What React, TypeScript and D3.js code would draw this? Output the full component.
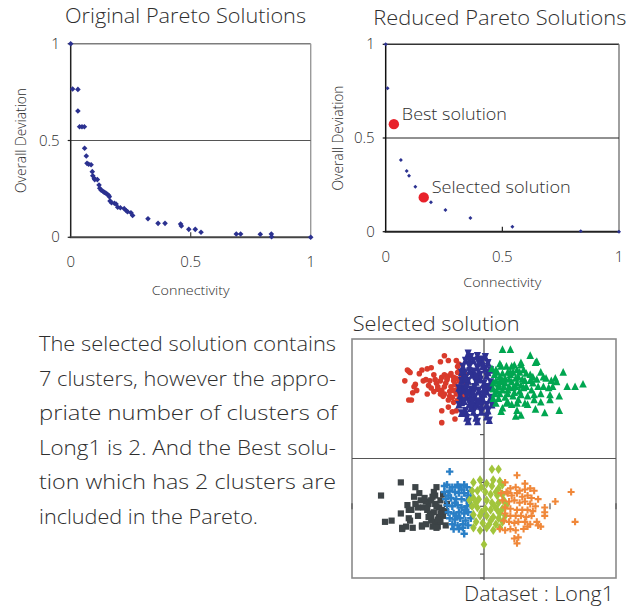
import React from 'react';
import * as d3 from 'd3';

type Pt = [number, number];

const FONT = '"Open Sans", "Noto Sans", sans-serif';
const WEIGHT = 350;
const INK = '#2e2e2e';
const NAVY = '#2b3190';
const HIGHLIGHT = '#e8212a';

// Pareto fronts: [connectivity, overall deviation]
const originalFront: Pt[] = [
  [0, 1], [0.008, 0.766], [0.03, 0.764], [0.03, 0.652], [0.037, 0.571], [0.047, 0.571], [0.057, 0.571],
  [0.058, 0.46], [0.065, 0.42], [0.068, 0.382], [0.075, 0.377], [0.085, 0.375], [0.09, 0.339],
  [0.092, 0.318], [0.098, 0.305], [0.1, 0.298], [0.111, 0.298], [0.118, 0.27], [0.121, 0.253],
  [0.127, 0.243], [0.133, 0.239], [0.14, 0.232], [0.146, 0.229], [0.152, 0.222], [0.158, 0.217],
  [0.161, 0.21], [0.164, 0.188], [0.17, 0.179], [0.182, 0.176], [0.189, 0.172], [0.196, 0.155],
  [0.207, 0.153], [0.223, 0.148], [0.232, 0.137], [0.237, 0.132], [0.251, 0.127], [0.258, 0.113],
  [0.322, 0.096], [0.364, 0.072], [0.393, 0.072], [0.458, 0.069], [0.461, 0.058], [0.492, 0.041],
  [0.519, 0.041], [0.543, 0.026], [0.69, 0.017], [0.708, 0.017], [0.79, 0.016], [0.836, 0.017],
  [0.837, 0.003], [1, 0],
];
const reducedFront: Pt[] = [
  [0, 1], [0.008, 0.766], [0.065, 0.383], [0.09, 0.324], [0.1, 0.298], [0.127, 0.24], [0.194, 0.157],
  [0.256, 0.116], [0.363, 0.073], [0.543, 0.026], [0.836, 0.003], [1, 0],
];
const bestSolution: Pt = [0.035, 0.574];
const selectedSolution: Pt = [0.163, 0.183];

const paretoTicks = [0, 0.5, 1];
const paretoTickLabels = ['0', '0.5', '1'];

// Long1 dataset, coloured by the selected 7-cluster solution
const redCluster: Pt[] = [
  [-0.3, 1.26], [-0.33, 1.21], [-0.27, 1.22], [-0.21, 1.22], [-0.19, 1.19], [-0.2, 1.17], [-0.57, 1.13],
  [-0.56, 1.12], [-0.47, 1.14], [-0.49, 1.11], [-0.43, 1.15], [-0.4, 1.16], [-0.38, 1.1], [-0.41, 1.05],
  [-0.44, 1.06], [-0.46, 1.05], [-0.6, 1.05], [-0.52, 1.02], [-0.53, 1.0], [-0.54, 0.95], [-0.51, 0.97],
  [-0.57, 0.89], [-0.55, 0.89], [-0.42, 1.01], [-0.4, 0.99], [-0.36, 1.03], [-0.33, 1.05], [-0.32, 1.08],
  [-0.3, 1.1], [-0.28, 1.06], [-0.27, 1.09], [-0.25, 1.11], [-0.23, 1.05], [-0.21, 1.07], [-0.19, 1.13],
  [-0.17, 1.09], [-0.16, 1.04], [-0.14, 1.0], [-0.35, 0.98], [-0.32, 0.97], [-0.3, 0.94], [-0.26, 0.92],
  [-0.23, 0.97], [-0.21, 0.94], [-0.2, 0.89], [-0.23, 0.87], [-0.27, 0.89], [-0.18, 0.92], [-0.38, 0.96],
  [-0.43, 0.94], [-0.33, 0.94], [-0.32, 0.8], [-0.27, 0.83], [-0.24, 0.79], [-0.21, 0.8], [-0.22, 0.73],
  [-0.32, 0.7], [-0.13, 1.03], [-0.14, 0.97], [-0.58, 1.14], [-0.29, 1.03], [-0.25, 1.0], [-0.22, 1.02],
  [-0.19, 1.05], [-0.17, 0.98], [-0.26, 0.96], [-0.3, 1.0], [-0.2, 0.98], [-0.16, 1.06], [-0.23, 1.08],
  [-0.28, 1.07], [-0.35, 1.0], [-0.37, 1.06], [-0.31, 0.92], [-0.18, 0.94], [-0.15, 0.92], [-0.24, 0.91],
  [-0.2, 1.12], [-0.14, 1.1],
];
const navyCluster: Pt[] = [
  [-0.12, 1.28], [-0.05, 1.26], [-0.1, 1.25], [-0.14, 1.22], [-0.08, 1.22], [-0.02, 1.23], [0.03, 1.2],
  [-0.16, 1.17], [-0.11, 1.17], [-0.05, 1.16], [0.01, 1.15], [0.05, 1.14], [-0.15, 1.11], [-0.09, 1.1],
  [-0.03, 1.1], [0.02, 1.09], [-0.17, 1.05], [-0.12, 1.05], [-0.06, 1.04], [0.0, 1.03], [0.05, 1.04],
  [-0.16, 0.99], [-0.1, 0.98], [-0.04, 0.97], [0.02, 0.96], [-0.18, 0.93], [-0.13, 0.92], [-0.07, 0.91],
  [-0.01, 0.9], [0.05, 0.91], [-0.17, 0.87], [-0.11, 0.86], [-0.05, 0.85], [0.02, 0.85], [-0.14, 0.8],
  [-0.08, 0.79], [-0.02, 0.79], [0.03, 0.8], [-0.13, 0.74], [-0.06, 0.74], [-0.12, 0.71], [-0.05, 0.71],
  [0.04, 0.72], [-0.17, 0.78], [-0.19, 0.85], [-0.19, 0.99], [0.01, 1.25], [0.05, 0.99], [0.06, 0.85],
  [-0.11, 1.22], [-0.02, 0.91], [-0.14, 0.97], [0.02, 0.75], [-0.07, 0.84], [-0.1, 0.92], [-0.01, 1.17],
  [-0.17, 1.12], [-0.08, 1.13], [-0.13, 1.02], [-0.03, 1.06], [0.03, 1.0], [-0.08, 0.95], [-0.15, 0.88],
  [-0.02, 0.84], [0.0, 0.94], [-0.1, 0.82], [-0.04, 1.2], [-0.06, 1.09], [-0.11, 1.13], [0.0, 0.98],
  [-0.07, 1.0], [-0.12, 0.95], [-0.04, 0.88], [-0.09, 0.88], [0.03, 1.12], [-0.14, 1.07],
];
const greenCluster: Pt[] = [
  [0.14, 1.31], [0.2, 1.31], [0.35, 1.26], [0.39, 1.2], [0.4, 1.21], [0.28, 1.2], [0.28, 1.18], [0.12, 1.19],
  [0.13, 1.17], [0.06, 1.15], [0.09, 1.14], [0.17, 1.17], [0.21, 1.17], [0.23, 1.18], [0.18, 1.12],
  [0.22, 1.12], [0.25, 1.14], [0.3, 1.14], [0.32, 1.11], [0.35, 1.1], [0.37, 1.08], [0.4, 1.06],
  [0.43, 1.12], [0.45, 1.08], [0.47, 1.07], [0.51, 1.05], [0.54, 1.07], [0.55, 1.04], [0.6, 1.12],
  [0.63, 1.0], [0.69, 1.0], [0.75, 1.02], [0.57, 0.92], [0.5, 0.89], [0.5, 0.93], [0.43, 0.94],
  [0.45, 1.0], [0.49, 0.99], [0.38, 0.93], [0.36, 0.97], [0.32, 1.0], [0.28, 1.01], [0.25, 1.03],
  [0.21, 1.04], [0.16, 1.07], [0.12, 1.08], [0.09, 1.05], [0.11, 1.0], [0.14, 0.97], [0.18, 0.94],
  [0.22, 0.92], [0.26, 0.89], [0.31, 0.86], [0.33, 0.85], [0.25, 0.8], [0.28, 0.76], [0.24, 0.75],
  [0.13, 0.79], [0.14, 0.82], [0.39, 0.81], [0.46, 0.78], [0.57, 0.8], [0.18, 0.87], [0.11, 0.9],
  [0.08, 0.94], [0.07, 1.03], [0.08, 1.1], [0.16, 1.03], [0.22, 0.99], [0.27, 0.96], [0.33, 0.92],
  [0.38, 0.89], [0.43, 0.87], [0.37, 1.03], [0.41, 1.0], [0.31, 1.05], [0.26, 1.08], [0.2, 1.1],
  [0.14, 1.11], [0.28, 0.93], [0.17, 0.86], [0.21, 0.85], [0.09, 0.86], [0.52, 1.0], [0.1, 1.12],
  [0.14, 1.05], [0.19, 1.0], [0.24, 1.07], [0.12, 0.94], [0.16, 0.91], [0.23, 0.95], [0.29, 1.06],
  [0.2, 1.12], [0.11, 1.02], [0.25, 0.86], [0.3, 0.99], [0.35, 1.05], [0.07, 0.98], [0.07, 0.9],
  [0.1, 0.96], [0.15, 1.0], [0.19, 1.06], [0.24, 1.0], [0.18, 0.97], [0.12, 1.04], [0.27, 1.12],
];
const darkCluster: Pt[] = [
  [-0.63, 0.2], [-0.52, 0.16], [-0.78, 0.09], [-0.58, 0.01], [-0.57, -0.03], [-0.55, -0.03], [-0.63, -0.06],
  [-0.7, -0.12], [-0.75, -0.13], [-0.62, -0.18], [-0.59, -0.17], [-0.54, -0.18], [-0.5, -0.08],
  [-0.47, -0.16], [-0.44, -0.15], [-0.4, -0.12], [-0.36, 0.16], [-0.37, 0.09], [-0.39, 0.08], [-0.49, 0.11],
  [-0.53, 0.08], [-0.48, 0.05], [-0.46, -0.01], [-0.43, -0.03], [-0.42, 0.02], [-0.37, 0.02], [-0.34, -0.01],
  [-0.32, -0.03], [-0.31, -0.08], [-0.34, -0.09], [-0.37, -0.13], [-0.35, -0.17], [-0.29, -0.16],
  [-0.41, -0.06], [-0.44, 0.04], [-0.38, -0.05], [-0.33, 0.05], [-0.28, 0.02], [-0.5, -0.01], [-0.52, 0.02],
  [-0.56, -0.12], [-0.33, -0.13], [-0.39, -0.17], [-0.42, -0.09], [-0.62, -0.19], [-0.57, -0.1],
  [-0.47, -0.17], [-0.36, -0.18], [-0.4, 0.05], [-0.36, 0.0], [-0.33, -0.06], [-0.4, -0.08], [-0.45, 0.07],
  [-0.38, 0.12], [-0.31, 0.1], [-0.29, -0.04], [-0.35, -0.11],
];
const blueCluster: Pt[] = [
  [-0.26, 0.29], [-0.3, 0.17], [-0.28, 0.18], [-0.24, 0.16], [-0.2, 0.18], [-0.19, 0.16], [-0.15, 0.18],
  [-0.13, 0.16], [-0.1, 0.13], [-0.3, 0.12], [-0.26, 0.13], [-0.22, 0.12], [-0.19, 0.11], [-0.15, 0.11],
  [-0.12, 0.09], [-0.29, 0.06], [-0.25, 0.07], [-0.21, 0.06], [-0.17, 0.06], [-0.13, 0.05], [-0.1, 0.06],
  [-0.28, 0.01], [-0.24, 0.0], [-0.2, 0.01], [-0.17, -0.01], [-0.13, 0.0], [-0.1, 0.01], [-0.27, -0.05],
  [-0.23, -0.06], [-0.19, -0.05], [-0.15, -0.06], [-0.12, -0.05], [-0.26, -0.1], [-0.22, -0.11],
  [-0.18, -0.1], [-0.14, -0.12], [-0.1, -0.1], [-0.24, -0.15], [-0.2, -0.16], [-0.16, -0.15],
  [-0.12, -0.16], [-0.15, -0.23], [-0.19, -0.19], [-0.23, -0.19], [-0.22, 0.03], [-0.17, 0.14],
  [-0.27, 0.09], [-0.14, -0.03], [-0.21, -0.08], [-0.16, -0.18],
];
const limeCluster: Pt[] = [
  [0.06, 0.31], [0.11, 0.31], [0.07, 0.22], [0.12, 0.21], [0.0, -0.32], [-0.08, 0.2], [-0.03, 0.22],
  [0.02, 0.19], [0.06, 0.17], [0.11, 0.15], [0.14, 0.18], [-0.09, 0.13], [-0.05, 0.13], [0.01, 0.12],
  [0.05, 0.1], [0.1, 0.09], [0.14, 0.1], [-0.08, 0.07], [-0.04, 0.06], [0.02, 0.05], [0.06, 0.03],
  [0.11, 0.03], [0.15, 0.05], [-0.09, 0.0], [-0.05, -0.01], [0.01, -0.02], [0.05, -0.03], [0.1, -0.03],
  [0.14, -0.02], [-0.08, -0.07], [-0.03, -0.08], [0.02, -0.08], [0.07, -0.09], [0.11, -0.1], [-0.06, -0.13],
  [-0.01, -0.14], [0.04, -0.15], [0.09, -0.15], [0.14, -0.13], [-0.08, -0.18], [-0.03, -0.2],
  [0.07, -0.2], [0.12, -0.18], [-0.11, 0.05], [0.17, 0.01], [0.16, -0.08], [0.02, -0.18],
  [-0.02, 0.16], [0.09, 0.12], [-0.06, 0.03], [0.08, 0.0], [-0.02, -0.05], [0.12, -0.06], [0.05, -0.12],
];
const orangeCluster: Pt[] = [
  [0.25, 0.26], [0.31, 0.19], [0.16, 0.2], [0.2, 0.15], [0.24, 0.16], [0.27, 0.13], [0.31, 0.14],
  [0.35, 0.15], [0.38, 0.13], [0.18, 0.11], [0.21, 0.09], [0.25, 0.11], [0.29, 0.08], [0.33, 0.09],
  [0.36, 0.07], [0.41, 0.06], [0.14, 0.05], [0.19, 0.04], [0.23, 0.05], [0.27, 0.03], [0.31, 0.04],
  [0.35, 0.02], [0.39, 0.0], [0.46, -0.01], [0.54, 0.04], [0.46, -0.05], [0.46, -0.08], [0.66, 0.12],
  [0.69, -0.13], [0.16, -0.01], [0.2, -0.02], [0.25, -0.03], [0.29, -0.03], [0.33, -0.03], [0.37, -0.04],
  [0.16, -0.06], [0.2, -0.08], [0.24, -0.08], [0.28, -0.08], [0.32, -0.09], [0.36, -0.08], [0.15, -0.12],
  [0.19, -0.13], [0.23, -0.14], [0.26, -0.13], [0.31, -0.13], [0.35, -0.15], [0.4, -0.13], [0.43, -0.17],
  [0.12, -0.19], [0.16, -0.2], [0.2, -0.19], [0.24, -0.2], [0.3, -0.19], [0.33, -0.17], [0.23, -0.27],
  [0.26, -0.26], [0.25, -0.31], [0.41, -0.16], [0.17, 0.12], [0.13, 0.11],
];

const clusterYTicks = [-0.6, -0.4, -0.2, 0, 0.2, 0.4, 0.6, 0.8, 1.0, 1.2];
const clusterXTicks = [-1, -0.5, 0.5, 1];
const clusterDivider = 0.4;

const paragraphLines = [
  'The selected solution contains',
  '7 clusters, however the appro-',
  'priate number of clusters of',
  'Long1 is 2. And the Best solu-',
  'tion which has 2 clusters are',
  'included in the Pareto.',
];
const paragraphWidths = [297, 297, 298, 297, 297, 219];

interface PanelProps {
  left: number; right: number; top: number; bottom: number;
  title: string; titleX: number; titleY: number; titleWidth: number;
  points: Pt[]; dotSize: number;
  yTitleX: number; xTitleY: number;
  edges: { top: string; right: string; left: string; bottom: string; mid: string };
  children?: (x: d3.ScaleLinear<number, number>, y: d3.ScaleLinear<number, number>) => React.ReactNode;
}

function ParetoPanel(p: PanelProps) {
  const x = d3.scaleLinear().domain([0, 1]).range([p.left, p.right]);
  const y = d3.scaleLinear().domain([0, 1]).range([p.bottom, p.top]);
  const dot = d3.symbol(d3.symbolDiamond2, p.dotSize)() as string;
  const midY = (p.top + p.bottom) / 2;
  return (
    <g>
      <text x={p.titleX} y={p.titleY} fontSize={20} fill={INK} textLength={p.titleWidth} lengthAdjust="spacingAndGlyphs">
        {p.title}
      </text>
      {/* frame */}
      <line x1={p.left} x2={p.right} y1={p.top} y2={p.top} stroke={p.edges.top} strokeWidth={1.4} />
      <line x1={p.right} x2={p.right} y1={p.top} y2={p.bottom} stroke={p.edges.right} strokeWidth={1.4} />
      <line x1={p.left} x2={p.right} y1={y(0.5)} y2={y(0.5)} stroke={p.edges.mid} strokeWidth={1} />
      <line x1={p.left} x2={p.left} y1={p.top} y2={p.bottom} stroke={p.edges.left} strokeWidth={1.5} />
      <line x1={p.left - 1} x2={p.right} y1={p.bottom} y2={p.bottom} stroke={p.edges.bottom} strokeWidth={2} />
      {paretoTicks.map((t) => (
        <line key={'yt' + t} x1={p.left - 3} x2={p.left} y1={y(t)} y2={y(t)} stroke={p.edges.left} strokeWidth={1.2} />
      ))}
      <line x1={x(0.5)} x2={x(0.5)} y1={p.bottom} y2={p.bottom - 5} stroke={p.edges.bottom} strokeWidth={1.2} />
      {paretoTicks.map((t, i) => (
        <text key={'yl' + t} x={p.left - 11} y={y(t) + 5} fontSize={15} fill={INK} textAnchor="end">
          {paretoTickLabels[i]}
        </text>
      ))}
      {paretoTicks.map((t, i) => (
        <text key={'xl' + t} x={x(t)} y={p.bottom + 30} fontSize={15} fill={INK} textAnchor="middle">
          {paretoTickLabels[i]}
        </text>
      ))}
      <text x={(p.left + p.right) / 2} y={p.xTitleY} fontSize={13} fill={INK} textAnchor="middle" textLength={78} lengthAdjust="spacingAndGlyphs">
        Connectivity
      </text>
      <text transform={`translate(${p.yTitleX},${midY}) rotate(-90)`} dy="0.35em" fontSize={14} fill={INK} textAnchor="middle" textLength={105} lengthAdjust="spacingAndGlyphs">
        Overall Deviation
      </text>
      {p.points.map((d, i) => (
        <path key={i} d={dot} transform={`translate(${x(d[0])},${y(d[1])})`} fill={NAVY} />
      ))}
      {p.children ? p.children(x, y) : null}
    </g>
  );
}

// marker outlines for the cluster plot
const hourglass = 'M-3.6,-3.8H3.6L2,0L3.6,3.8H-3.6L-2,0Z';
const triangle = 'M0,-4.4L3.8,3.2H-3.8Z';
const square = 'M-3.1,-3.1H3.1V3.1H-3.1Z';
const diamond = 'M0,-4.8L3.3,0L0,4.8L-3.3,0Z';
const plus = (r: number) => `M${-r},0H${r}M0,${-r}V${r}`;

function ClusterPanel() {
  const left = 352, right = 616, top = 339, bottom = 578;
  const x = d3.scaleLinear().domain([-1, 1]).range([left, right]);
  const y = d3.scaleLinear().domain([-0.6, 1.4]).range([bottom, top]);
  const at = (d: Pt) => `translate(${x(d[0])},${y(d[1])})`;
  const frame = '#8a8a8a';
  return (
    <g>
      <text x={352.7} y={330.5} fontSize={20} fill={INK} textLength={167} lengthAdjust="spacingAndGlyphs">
        Selected solution
      </text>
      <rect x={left} y={top} width={right - left} height={bottom - top} fill="none" stroke={frame} strokeWidth={1.6} />
      <line x1={left} x2={right} y1={y(clusterDivider)} y2={y(clusterDivider)} stroke="#555" strokeWidth={1.2} />
      <line x1={x(0)} x2={x(0)} y1={top} y2={bottom + 2} stroke="#555" strokeWidth={1.3} />
      {clusterYTicks.map((t) => (
        <line key={'ct' + t} x1={x(0) - 4} x2={x(0)} y1={y(t)} y2={y(t)} stroke="#555" strokeWidth={1.2} />
      ))}
      {clusterXTicks.map((t) => (
        <line key={'cx' + t} x1={x(t)} x2={x(t)} y1={y(0) - 3} y2={y(0) + 3} stroke="#555" strokeWidth={1.2} />
      ))}
      <text x={x(0) - 8} y={y(1) + 5} fontSize={13} fill={INK} textAnchor="end">1</text>

      {redCluster.map((d, i) => (
        <circle key={'r' + i} cx={x(d[0])} cy={y(d[1])} r={2.8} fill="#d93a2b" />
      ))}
      {navyCluster.map((d, i) => (
        <path key={'n' + i} d={hourglass} transform={at(d)} fill="#2e3192" />
      ))}
      {greenCluster.map((d, i) => (
        <path key={'g' + i} d={triangle} transform={at(d)} fill="#00a650" />
      ))}
      {darkCluster.map((d, i) => (
        <path key={'k' + i} d={square} transform={at(d)} fill="#3d4447" />
      ))}
      {blueCluster.map((d, i) => (
        <path key={'b' + i} d={plus(3.7)} transform={at(d)} stroke="#2a7fc6" strokeWidth={2.4} fill="none" />
      ))}
      {limeCluster.map((d, i) => (
        <path key={'l' + i} d={diamond} transform={at(d)} fill="#a2c53c" />
      ))}
      {orangeCluster.map((d, i) => (
        <path key={'o' + i} d={plus(3.5)} transform={at(d)} stroke="#f0883a" strokeWidth={2.1} fill="none" />
      ))}
      <text x={464} y={600.5} fontSize={20} fill={INK} textLength={150} lengthAdjust="spacingAndGlyphs">
        Dataset : Long1
      </text>
    </g>
  );
}

export default function App() {
  return (
    <svg width={641} height={608} viewBox="0 0 641 608" fontFamily={FONT} fontWeight={WEIGHT}
      style={{ position: 'absolute', left: 0, top: 0, background: '#fff' }}>
      <rect width={641} height={608} fill="#fff" />
      <ParetoPanel
        left={70.7} right={310.7} top={43.7} bottom={237.3}
        title="Original Pareto Solutions" titleX={65} titleY={23} titleWidth={241}
        points={originalFront} dotSize={20}
        yTitleX={21} xTitleY={294.5}
        edges={{ top: '#7d7d7d', right: '#9a9a9a', left: '#222', bottom: '#444', mid: '#555' }}
      />
      <ParetoPanel
        left={385.7} right={619} top={44.3} bottom={231.7}
        title="Reduced Pareto Solutions" titleX={373.3} titleY={25} titleWidth={253}
        points={reducedFront} dotSize={10}
        yTitleX={338} xTitleY={286.5}
        edges={{ top: '#333', right: '#777', left: '#111', bottom: '#222', mid: '#222' }}
      >
        {(x, y) => (
          <g>
            <circle cx={x(bestSolution[0])} cy={y(bestSolution[1])} r={5.2} fill={HIGHLIGHT} />
            <circle cx={x(selectedSolution[0])} cy={y(selectedSolution[1])} r={5.2} fill={HIGHLIGHT} />
            <text x={x(bestSolution[0]) + 8} y={120} fontSize={17} fill={INK} textLength={105} lengthAdjust="spacingAndGlyphs">
              Best solution
            </text>
            <text x={x(selectedSolution[0]) + 8} y={193.3} fontSize={17} fill={INK} textLength={139} lengthAdjust="spacingAndGlyphs">
              Selected solution
            </text>
          </g>
        )}
      </ParetoPanel>
      <g>
        {paragraphLines.map((line, i) => (
          <text key={i} x={39} y={351 + i * 34.6} fontSize={20} fill={INK}
            textLength={paragraphWidths[i]} lengthAdjust="spacingAndGlyphs">
            {line}
          </text>
        ))}
      </g>
      <ClusterPanel />
    </svg>
  );
}
